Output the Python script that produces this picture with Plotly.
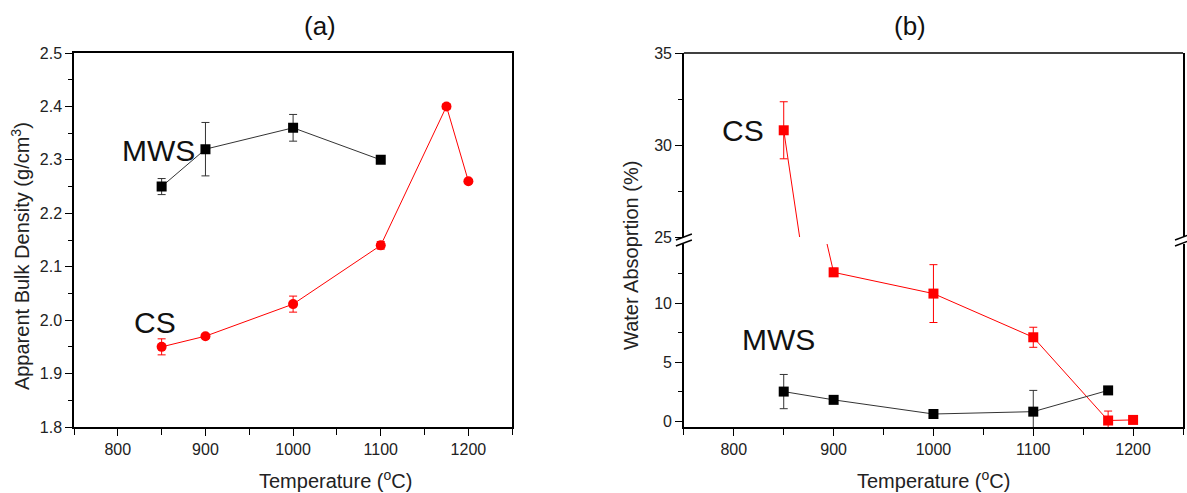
import plotly.graph_objects as go

# ---- data: panel (a) apparent bulk density ----
a_mws_x = [850, 900, 1000, 1100]
a_mws_y = [2.25, 2.32, 2.36, 2.30]
a_mws_err = [0.015, 0.05, 0.025, 0.004]

a_cs_x = [850, 900, 1000, 1100, 1175, 1200]
a_cs_y = [1.95, 1.97, 2.03, 2.14, 2.40, 2.26]
a_cs_err = [0.015, 0.004, 0.015, 0.007, 0.005, 0.003]

# ---- data: panel (b) water absorption ----
b_cs_x = [850, 900, 1000, 1100, 1175, 1200]
b_cs_y = [30.8, 12.6, 10.8, 7.1, 0.05, 0.1]
b_cs_err = [1.55, 0.35, 2.45, 0.85, 0.8, 0.2]

b_mws_x = [850, 900, 1000, 1100, 1175]
b_mws_y = [2.5, 1.8, 0.6, 0.8, 2.6]
b_mws_err = [1.45, 0.1, 0.1, 1.8, 0.1]

x_ticks = [800, 900, 1000, 1100, 1200]

W, H = 1187, 493
L, R, T, B = 74, 2, 53, 66
PW, PH = W - L - R, H - T - B

def px(xp):
    return (xp - L) / PW

def py(yp):
    return (H - B - yp) / PH

RED = "#ff0000"
BLK = "#000000"
FONT = "Liberation Sans, Arial, sans-serif"

fig = go.Figure()

def err(vals, color):
    return dict(type="data", array=vals, visible=True, color=color, thickness=1, width=4)

# panel (a)
fig.add_trace(go.Scatter(x=a_mws_x, y=a_mws_y, mode="lines+markers", xaxis="x", yaxis="y",
                         line=dict(color="#333333", width=1),
                         marker=dict(symbol="square", size=10, color=BLK),
                         error_y=err(a_mws_err, "#333333")))
fig.add_trace(go.Scatter(x=a_cs_x, y=a_cs_y, mode="lines+markers", xaxis="x", yaxis="y",
                         line=dict(color=RED, width=1),
                         marker=dict(symbol="circle", size=10, color=RED),
                         error_y=err(a_cs_err, RED)))

# panel (b): lower segment (y2) and upper segment (y3)
for ya in ["y2", "y3"]:
    fig.add_trace(go.Scatter(x=b_cs_x, y=b_cs_y, mode="lines+markers", xaxis="x2", yaxis=ya,
                             line=dict(color=RED, width=1),
                             marker=dict(symbol="square", size=10, color=RED),
                             error_y=err(b_cs_err, RED), cliponaxis=True))
fig.add_trace(go.Scatter(x=b_mws_x, y=b_mws_y, mode="lines+markers", xaxis="x2", yaxis="y2",
                         line=dict(color="#333333", width=1),
                         marker=dict(symbol="square", size=10, color=BLK),
                         error_y=err(b_mws_err, "#333333")))

tickfont = dict(family=FONT, size=16, color="#222222")
common = dict(showline=True, linecolor=BLK, linewidth=1.5, ticks="outside", ticklen=7,
              tickwidth=1.2, tickcolor=BLK, showgrid=False, zeroline=False, tickfont=tickfont)

xcommon = dict(common, range=[750, 1250], tickvals=x_ticks,
               minor=dict(tickvals=[750, 850, 950, 1050, 1150, 1250], ticks="outside",
                          ticklen=6, tickcolor=BLK, tickwidth=1.2))

fig.update_layout(
    width=W, height=H, margin=dict(l=L, r=R, t=T, b=B),
    plot_bgcolor="white", paper_bgcolor="white", showlegend=False,
    font=dict(family=FONT, color="#222222"),
    xaxis=dict(xcommon, domain=[0, px(513)], anchor="y", mirror=True),
    yaxis=dict(common, domain=[0, 1], anchor="x", range=[1.8, 2.5], mirror=True,
               tickvals=[1.8, 1.9, 2.0, 2.1, 2.2, 2.3, 2.4, 2.5], ticktext=["1.8", "1.9", "2.0", "2.1", "2.2", "2.3", "2.4", "2.5"],
               minor=dict(tickvals=[1.85, 1.95, 2.05, 2.15, 2.25, 2.35, 2.45], ticks="outside",
                          ticklen=4, tickcolor=BLK, tickwidth=1.2)),
    xaxis2=dict(xcommon, domain=[px(685), 1], anchor="y2"),
    yaxis2=dict(common, domain=[0, py(244)], anchor="x2", range=[-0.5, 15], mirror=True,
                tickvals=[0, 5, 10],
                minor=dict(tickvals=[2.5, 7.5, 12.5], ticks="outside", ticklen=4, tickcolor=BLK, tickwidth=1.2)),
    yaxis3=dict(common, domain=[py(237), 1], anchor="x2", range=[25, 35], mirror=True,
                tickvals=[25, 30, 35],
                minor=dict(tickvals=[27.5, 32.5], ticks="outside", ticklen=4, tickcolor=BLK, tickwidth=1.2)),
)

# top border of panel (b)
fig.add_shape(type="line", xref="x2 domain", yref="y3 domain", x0=0, x1=1, y0=1, y1=1,
              line=dict(color=BLK, width=1.5))

# axis break marks
for xp in [685, 1185]:
    for yc in [237, 243]:
        fig.add_shape(type="line", xref="paper", yref="paper",
                      x0=px(xp - 8), x1=px(xp + 8), y0=py(yc + 3), y1=py(yc - 3),
                      line=dict(color=BLK, width=1.5))

def txt(text, x, y, size, xref="paper", yref="paper", angle=0, color="#222222"):
    return dict(text=text, x=x, y=y, xref=xref, yref=yref, showarrow=False, textangle=angle,
                xanchor="center", yanchor="middle", font=dict(size=size, family=FONT, color=color))

ann = [
    txt("(a)", px(320), py(26), 26, color="#111111"),
    txt("(b)", px(912), py(26), 26, color="#111111"),
    txt("Apparent Bulk Density (g/cm<sup>3</sup>)", px(21), py(256), 20, angle=-90),
    txt("Water Absoprtion (%)", px(632), py(255), 20, angle=-90),
    txt("Temperature (<sup>o</sup>C)", px(336), py(479), 20),
    txt("Temperature (<sup>o</sup>C)", px(935), py(479), 20),
    txt("MWS", 846, 2.318, 30, "x", "y", color="#111111"),
    txt("CS", 842, 1.996, 30, "x", "y", color="#111111"),
    txt("CS", 809, 30.8, 30, "x2", "y3", color="#111111"),
    txt("MWS", 845, 6.9, 30, "x2", "y2", color="#111111"),
]
fig.update_layout(annotations=ann)

fig.write_html("out.html", config={"displayModeBar": False},
               post_script="document.body.style.margin='0';")
